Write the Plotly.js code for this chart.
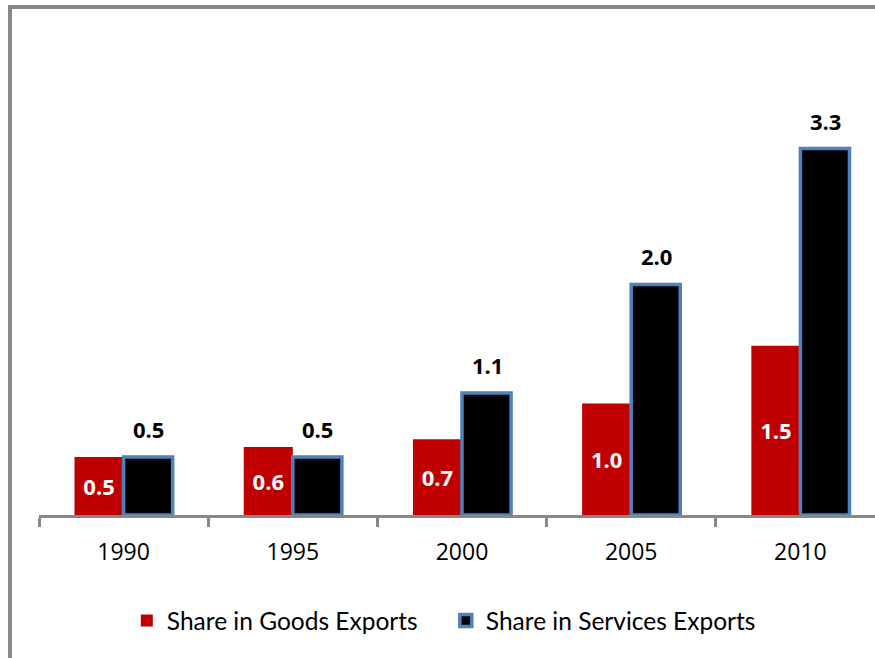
<!DOCTYPE html>
<html>
<head>
<meta charset="utf-8">
<script src="https://cdn.plot.ly/plotly-3.0.1.min.js"></script>
<style>
html,body{margin:0;padding:0;overflow:hidden;background:#fff;width:875px;height:658px;}
#chart{width:900px;height:658px;}
</style>
</head>
<body>
<div id="chart"></div>
<script>
var years = ['1990', '1995', '2000', '2005', '2010'];
var goodsValues = [0.52, 0.61, 0.68, 1.0, 1.52];
var servicesValues = [0.52, 0.52, 1.095, 2.07, 3.29];
var goodsLabels = ['0.5', '0.6', '0.7', '1.0', '1.5'];
var servicesLabels = ['0.5', '0.5', '1.1', '2.0', '3.3'];

var goods = {
  type: 'bar',
  name: 'Share in Goods Exports',
  x: years,
  y: goodsValues,
  text: goodsLabels,
  textposition: 'inside',
  insidetextanchor: 'middle',
  constraintext: 'none',
  insidetextfont: {family: 'Open Sans', size: 22, color: '#ffffff', weight: 'bold'},
  textangle: 0,
  marker: {color: '#C00000', line: {width: 0}},
  hoverinfo: 'none'
};
var services = {
  type: 'bar',
  name: 'Share in Services Exports',
  x: years,
  y: servicesValues,
  marker: {color: '#000000', line: {color: '#4F81BD', width: 3.5}},
  hoverinfo: 'none'
};

// annotation x uses the category index on the category axis
var annotations = years.map(function (yr, i) {
  return {
    x: i, y: servicesValues[i], xref: 'x', yref: 'y',
    text: servicesLabels[i], showarrow: false,
    xshift: 25, yshift: 28, yanchor: 'middle',
    font: {family: 'Open Sans', size: 22, color: '#000000', weight: 'bold'}
  };
});

var layout = {
  width: 900, height: 658,
  margin: {l: 39, r: 15, t: 40, b: 143},
  paper_bgcolor: '#ffffff', plot_bgcolor: '#ffffff',
  barmode: 'group', bargap: 0.42, bargroupgap: 0,
  showlegend: true,
  legend: {
    orientation: 'h', x: 0.1038, xanchor: 'left', y: -0.222, yanchor: 'middle',
    font: {family: 'Lato', size: 24.5, color: '#000000'},
    traceorder: 'normal', entrywidth: 274
  },
  xaxis: {
    type: 'category', categoryarray: years, categoryorder: 'array',
    range: [-0.5, 4.5], autorange: false,
    showline: true, linecolor: '#888888', linewidth: 3,
    ticks: 'outside', tickson: 'boundaries', ticklen: 9, tickwidth: 3, tickcolor: '#888888',
    tickfont: {family: 'Open Sans', size: 23, color: '#000000'}, tickangle: 0,
    ticklabelstandoff: 14,
    showgrid: false, zeroline: false, fixedrange: true
  },
  yaxis: {
    range: [0, 4.264], autorange: false, visible: false, showgrid: false, zeroline: false, fixedrange: true
  },
  annotations: annotations,
  shapes: [{
    type: 'rect', xref: 'paper', yref: 'paper',
    x0: -0.0343, x1: 2, y0: -1, y1: 1.0695,
    line: {color: '#888888', width: 4}, fillcolor: 'rgba(0,0,0,0)', layer: 'above'
  }]
};

Plotly.newPlot('chart', [goods, services], layout, {displayModeBar: false, staticPlot: true});
</script>
</body>
</html>
